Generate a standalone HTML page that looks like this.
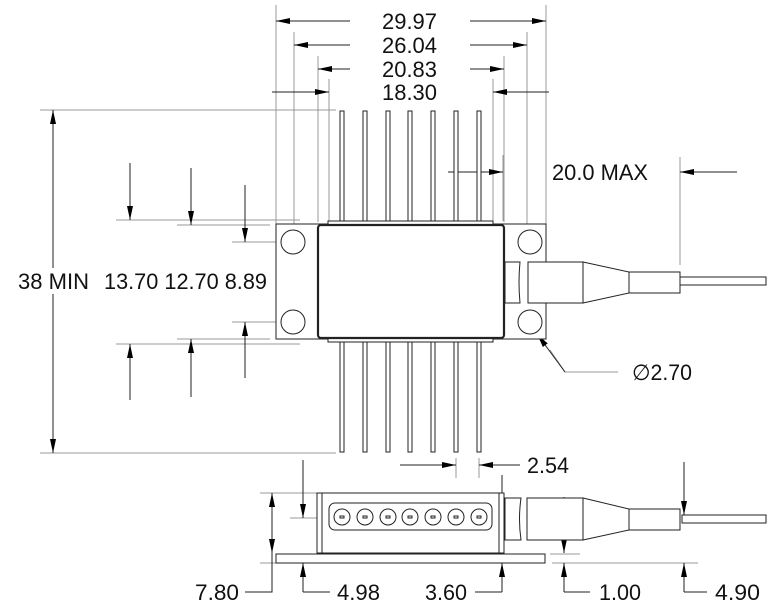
<!DOCTYPE html>
<html><head><meta charset="utf-8"><style>
html,body{margin:0;padding:0;background:#fff;width:780px;height:615px;overflow:hidden}
svg{display:block}
text{font-family:"Liberation Sans",Arial,sans-serif;font-size:22px;fill:#111}
</style></head><body>
<svg width="780" height="615" viewBox="0 0 780 615" xmlns="http://www.w3.org/2000/svg">
<defs>
<marker id="a" markerWidth="14" markerHeight="8" refX="14" refY="4" orient="auto" markerUnits="userSpaceOnUse">
<path d="M0,1 L14,4 L0,7 Z" fill="#000"/></marker>
</defs>
<g stroke="#999" stroke-width="1" fill="none">
<line x1="276" y1="5" x2="276" y2="224"/><line x1="546" y1="5" x2="546" y2="224"/>
<line x1="294" y1="32" x2="294" y2="230"/><line x1="527" y1="32" x2="527" y2="230"/>
<line x1="318" y1="56" x2="318" y2="222"/><line x1="504" y1="56" x2="504" y2="222"/>
<line x1="329" y1="79" x2="329" y2="221"/><line x1="493" y1="79" x2="493" y2="221"/>
<line x1="503" y1="155" x2="503" y2="221"/>
<line x1="680" y1="157" x2="680" y2="265"/>
<line x1="40" y1="110" x2="336" y2="110"/><line x1="40" y1="453" x2="336" y2="453"/>
<line x1="116" y1="220" x2="300" y2="220"/><line x1="116" y1="344" x2="300" y2="344"/>
<line x1="177" y1="225" x2="270" y2="225"/><line x1="177" y1="339" x2="270" y2="339"/>
<line x1="232" y1="242" x2="293" y2="242"/><line x1="232" y1="322" x2="293" y2="322"/>
<line x1="456" y1="458" x2="456" y2="478"/><line x1="479" y1="458" x2="479" y2="478"/>
<line x1="260" y1="493" x2="317" y2="493"/><line x1="260" y1="563" x2="276" y2="563"/>
<line x1="290" y1="518" x2="340" y2="518"/><line x1="490" y1="530" x2="515" y2="530"/>
<line x1="550" y1="554" x2="580" y2="554"/><line x1="552" y1="563" x2="698" y2="563"/>
<line x1="565" y1="498" x2="565" y2="540"/><line x1="684" y1="462" x2="684" y2="515"/>
<polyline points="550,350 565,372 618,372"/>
</g>
<g stroke="#222" stroke-width="1" fill="none">
<line x1="350" y1="21" x2="276" y2="21" marker-end="url(#a)"/><line x1="470" y1="21" x2="546" y2="21" marker-end="url(#a)"/>
<line x1="350" y1="45" x2="294" y2="45" marker-end="url(#a)"/><line x1="470" y1="45" x2="527" y2="45" marker-end="url(#a)"/>
<line x1="350" y1="69" x2="318" y2="69" marker-end="url(#a)"/><line x1="470" y1="69" x2="504" y2="69" marker-end="url(#a)"/>
<line x1="272" y1="92" x2="329" y2="92" marker-end="url(#a)"/><line x1="549" y1="92" x2="493" y2="92" marker-end="url(#a)"/>
<line x1="448" y1="172" x2="503" y2="172" marker-end="url(#a)"/><line x1="737" y1="172" x2="680" y2="172" marker-end="url(#a)"/>
<line x1="53" y1="268" x2="53" y2="110" marker-end="url(#a)"/><line x1="53" y1="294" x2="53" y2="453" marker-end="url(#a)"/>
<line x1="130" y1="163" x2="130" y2="220" marker-end="url(#a)"/><line x1="130" y1="400" x2="130" y2="344" marker-end="url(#a)"/>
<line x1="191" y1="168" x2="191" y2="225" marker-end="url(#a)"/><line x1="191" y1="397" x2="191" y2="339" marker-end="url(#a)"/>
<line x1="245" y1="185" x2="245" y2="242" marker-end="url(#a)"/><line x1="245" y1="378" x2="245" y2="322" marker-end="url(#a)"/>
<line x1="400" y1="465" x2="456" y2="465" marker-end="url(#a)"/><line x1="520" y1="465" x2="479" y2="465" marker-end="url(#a)"/>
<line x1="272" y1="520" x2="272" y2="493" marker-end="url(#a)"/><line x1="272" y1="520" x2="272" y2="553" marker-end="url(#a)"/>
<polyline points="272,553 272,592 245,592"/>
<line x1="303" y1="460" x2="303" y2="518" marker-end="url(#a)"/><line x1="330" y1="592" x2="303" y2="592"/><line x1="303" y1="592" x2="303" y2="563" marker-end="url(#a)"/>
<line x1="502" y1="475" x2="502" y2="530" marker-end="url(#a)"/><line x1="502" y1="592" x2="502" y2="563" marker-end="url(#a)"/><line x1="475" y1="592" x2="502" y2="592"/>
<line x1="564" y1="497" x2="564" y2="553" marker-end="url(#a)"/><line x1="564" y1="592" x2="564" y2="563" marker-end="url(#a)"/><line x1="564" y1="592" x2="590" y2="592"/>
<line x1="684" y1="462" x2="684" y2="515" marker-end="url(#a)"/><line x1="684" y1="592" x2="684" y2="563" marker-end="url(#a)"/><line x1="684" y1="592" x2="707" y2="592"/>
<line x1="565" y1="372" x2="537" y2="334" marker-end="url(#a)"/>
</g>
<g stroke="#222" fill="#fff" stroke-width="1">
<rect x="340" y="111" width="4" height="112"/><rect x="363" y="111" width="4" height="112"/><rect x="386" y="111" width="4" height="112"/><rect x="408" y="111" width="4" height="112"/><rect x="431" y="111" width="4" height="112"/><rect x="454" y="111" width="4" height="112"/><rect x="477" y="111" width="4" height="112"/>
<rect x="340" y="340" width="4" height="112"/><rect x="363" y="340" width="4" height="112"/><rect x="386" y="340" width="4" height="112"/><rect x="408" y="340" width="4" height="112"/><rect x="431" y="340" width="4" height="112"/><rect x="454" y="340" width="4" height="112"/><rect x="477" y="340" width="4" height="112"/>
<rect x="276" y="224" width="270" height="115"/>
<rect x="328" y="221" width="165" height="4"/><rect x="328" y="338" width="165" height="4"/>
<circle cx="293" cy="242" r="12"/><circle cx="293" cy="322" r="12"/><circle cx="530" cy="242" r="12"/><circle cx="530" cy="322" r="12"/>
<rect x="318" y="225" width="186" height="113" rx="3" stroke-width="2.2"/>
<path d="M505,262 H520 Q518,282 520,303 H505 Z"/>
<rect x="528" y="262" width="55" height="41"/>
<polygon points="583,262 629,272 629,293 583,303"/>
<rect x="629" y="272" width="51" height="21"/>
<rect x="680" y="277" width="86" height="8"/>
<rect x="317" y="493" width="187" height="60"/>
<line x1="322" y1="493" x2="322" y2="553"/><line x1="499" y1="493" x2="499" y2="553"/>
<rect x="276" y="554" width="269" height="9"/>
<rect x="329" y="503" width="163" height="27" rx="6"/>
<g>
<circle cx="342" cy="517" r="8"/><circle cx="365" cy="517" r="8"/><circle cx="388" cy="517" r="8"/><circle cx="410" cy="517" r="8"/><circle cx="433" cy="517" r="8"/><circle cx="456" cy="517" r="8"/><circle cx="479" cy="517" r="8"/>
<rect x="340" y="516" width="4" height="2"/><rect x="363" y="516" width="4" height="2"/><rect x="386" y="516" width="4" height="2"/><rect x="408" y="516" width="4" height="2"/><rect x="431" y="516" width="4" height="2"/><rect x="454" y="516" width="4" height="2"/><rect x="477" y="516" width="4" height="2"/>
</g>
<path d="M505,498 H521 Q518,519 521,540 H505 Z"/>
<rect x="527" y="498" width="56" height="42"/>
<polygon points="583,498 629,509 629,530 583,540"/>
<rect x="629" y="509" width="51" height="21"/>
<rect x="682" y="515" width="84" height="8"/>
</g>
<g>
<text x="382" y="29" textLength="55" lengthAdjust="spacingAndGlyphs">29.97</text>
<text x="382" y="53" textLength="55" lengthAdjust="spacingAndGlyphs">26.04</text>
<text x="382" y="77" textLength="55" lengthAdjust="spacingAndGlyphs">20.83</text>
<text x="382" y="100" textLength="55" lengthAdjust="spacingAndGlyphs">18.30</text>
<text x="552" y="180" textLength="96" lengthAdjust="spacingAndGlyphs">20.0 MAX</text>
<text x="18" y="289" textLength="71" lengthAdjust="spacingAndGlyphs">38 MIN</text>
<text x="104" y="289" textLength="163" lengthAdjust="spacingAndGlyphs">13.70 12.70 8.89</text>
<text x="632" y="380" textLength="60" lengthAdjust="spacingAndGlyphs">∅2.70</text>
<text x="527" y="473" textLength="42" lengthAdjust="spacingAndGlyphs">2.54</text>
<text x="195" y="600" textLength="44" lengthAdjust="spacingAndGlyphs">7.80</text>
<text x="337" y="600" textLength="43" lengthAdjust="spacingAndGlyphs">4.98</text>
<text x="425" y="600" textLength="42" lengthAdjust="spacingAndGlyphs">3.60</text>
<text x="599" y="600" textLength="42" lengthAdjust="spacingAndGlyphs">1.00</text>
<text x="715" y="600" textLength="45" lengthAdjust="spacingAndGlyphs">4.90</text>
</g>
</svg>
</body></html>
